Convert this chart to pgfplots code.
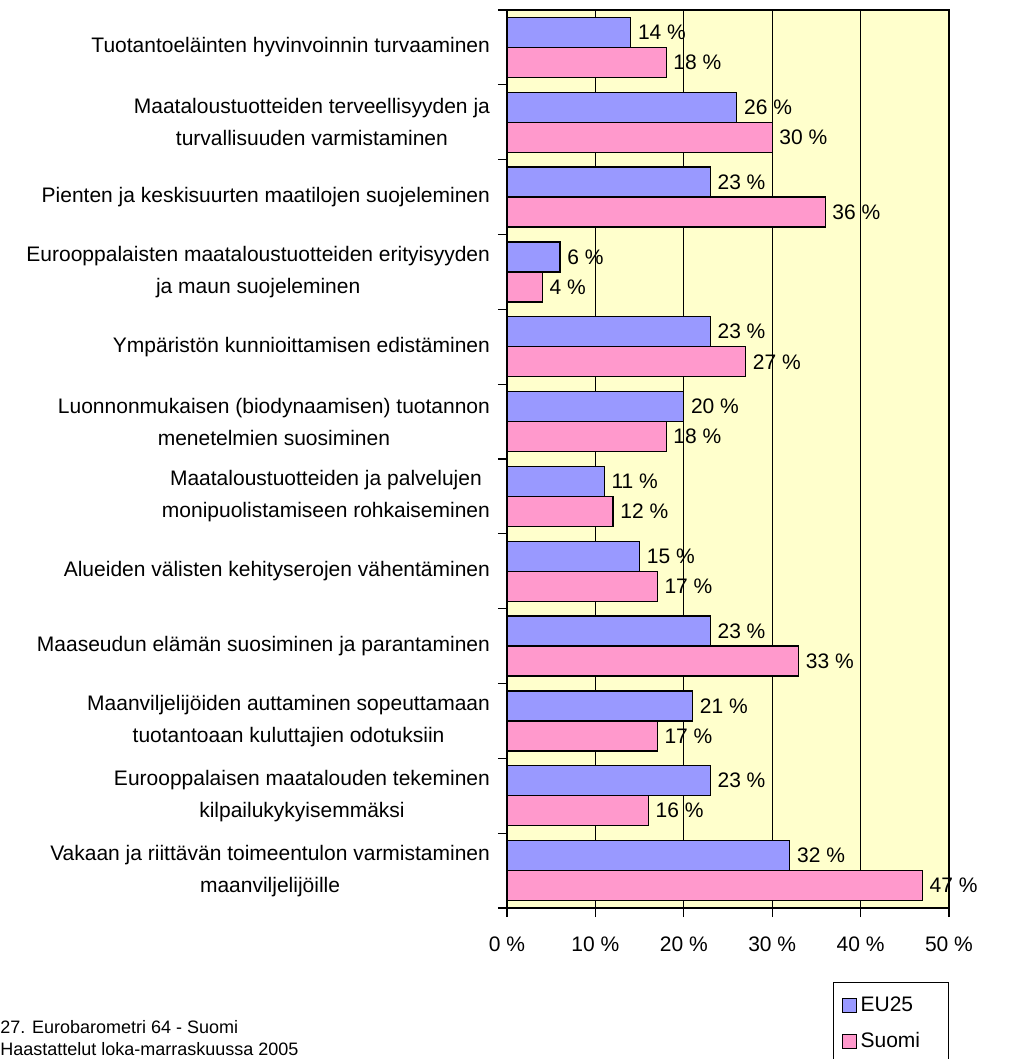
\documentclass[border=0pt]{standalone}
\usepackage{fontspec}
\setmainfont{Liberation Sans}
\usepackage{pgfplots}
\pgfplotsset{compat=1.18}
\definecolor{eu}{HTML}{9999FF}
\definecolor{fi}{HTML}{FF99CC}
\definecolor{bg}{HTML}{FFFFCC}
\begin{document}
\begin{tikzpicture}[font=\fontsize{10.5}{16}\selectfont]
\useasboundingbox (-253.5pt,-75.5pt) rectangle (250.5pt,454pt);
\begin{axis}[
  at={(0,0)}, anchor=south west,
  scale only axis, width=221pt, height=449pt,
  xbar, bar width=15pt,
  xmin=0, xmax=50, ymin=0.5, ymax=12.5, y dir=reverse,
  axis background/.style={fill=bg},
  axis line style={black, line width=0.6pt},
  xtick={0,10,...,50},
  xticklabel={\pgfmathprintnumber{\tick}~\%},
  minor xtick={0,10,...,50},
  ytick={1,...,12},
  minor ytick={0.5,1.5,...,12.5},
  xtick pos=bottom, ytick pos=left,
  major tick length=0pt, minor tick length=4.5pt, tick align=outside,
  tick style={black, line width=0.6pt},
  xmajorgrids, major grid style={black, line width=0.6pt},
  xticklabel shift=11pt,
  yticklabel shift=5pt,
  yticklabel style={align=center, font=\fontsize{10.5}{16}\selectfont},
  xticklabel style={font=\fontsize{10.5}{16}\selectfont},
  /pgf/number format/assume math mode=true,
  yticklabels={
    {Tuotantoeläinten hyvinvoinnin turvaaminen},
    {Maataloustuotteiden terveellisyyden ja\\turvallisuuden varmistaminen},
    {Pienten ja keskisuurten maatilojen suojeleminen},
    {Eurooppalaisten maataloustuotteiden erityisyyden\\ja maun suojeleminen},
    {Ympäristön kunnioittamisen edistäminen},
    {Luonnonmukaisen (biodynaamisen) tuotannon\\menetelmien suosiminen},
    {Maataloustuotteiden ja palvelujen\\monipuolistamiseen rohkaiseminen},
    {Alueiden välisten kehityserojen vähentäminen},
    {Maaseudun elämän suosiminen ja parantaminen},
    {Maanviljelijöiden auttaminen sopeuttamaan\\tuotantoaan kuluttajien odotuksiin},
    {Eurooppalaisen maatalouden tekeminen\\kilpailukykyisemmäksi},
    {Vakaan ja riittävän toimeentulon varmistaminen\\maanviljelijöille}},
  point meta=x,
  nodes near coords={\pgfmathprintnumber{\pgfplotspointmeta}~\%},
  nodes near coords style={font=\fontsize{10.5}{16}\selectfont, black, anchor=west},
  clip=false,
  legend style={at={(0.7376,-0.0824)}, anchor=north west, draw=black, line width=0.6pt,
    font=\fontsize{10.5}{16}\selectfont, row sep=5pt, inner xsep=4pt, inner ysep=5pt,
    text width=38pt},
  legend cell align=left,
  legend image code/.code={\draw[#1, draw=black, line width=0.5pt] (0pt,-3.5pt) rectangle (7pt,3.5pt);},
]
\addplot[fill=eu, draw=black, line width=0.6pt, bar shift=7.5pt] coordinates {
  (14,1) (26,2) (23,3) (6,4) (23,5) (20,6) (11,7) (15,8) (23,9) (21,10) (23,11) (32,12)};
\addlegendentry{EU25}
\addplot[fill=fi, draw=black, line width=0.6pt, bar shift=-7.5pt] coordinates {
  (18,1) (30,2) (36,3) (4,4) (27,5) (18,6) (12,7) (17,8) (33,9) (17,10) (16,11) (47,12)};
\addlegendentry{Suomi}
\end{axis}
\node[anchor=west, inner sep=0pt, font=\fontsize{9}{12}\selectfont] at (-253.5pt,-59.5pt) {27. Eurobarometri 64 - Suomi};
\node[anchor=west, inner sep=0pt, font=\fontsize{9}{12}\selectfont] at (-253.5pt,-70.5pt) {Haastattelut loka-marraskuussa 2005};
\end{tikzpicture}
\end{document}
